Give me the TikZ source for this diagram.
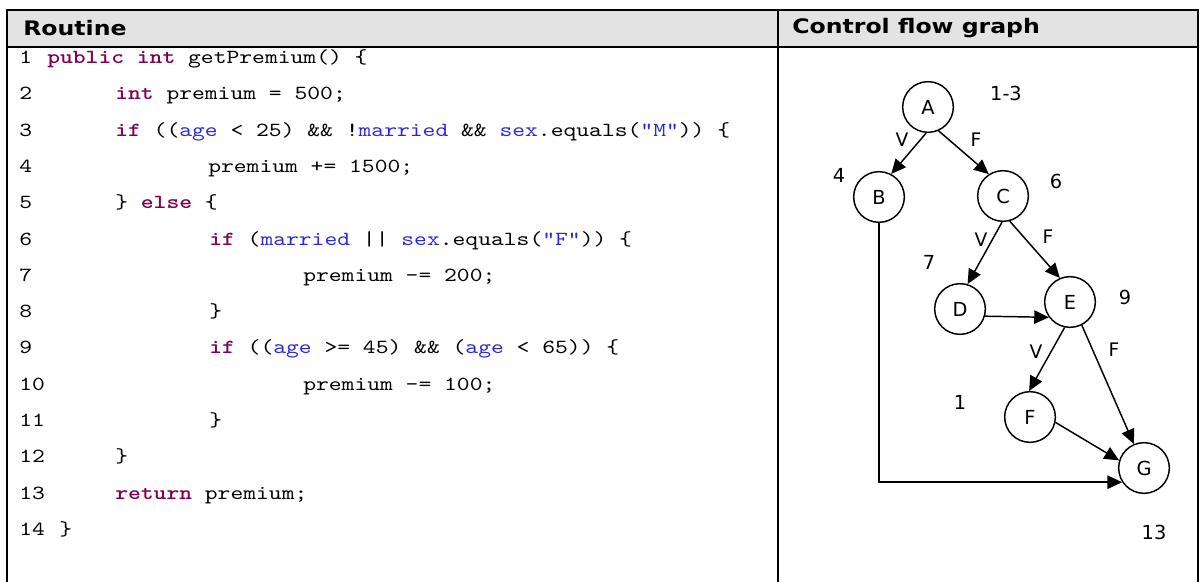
\documentclass[tikz,border=0pt]{standalone}
\usepackage{fontspec}
\setmainfont{DejaVu Sans}
\newfontfamily\headfont[FakeStretch=1.18]{DejaVu Sans}
\newfontfamily\codefont{lmmono10-regular.otf}[FakeStretch=1.22, BoldFont=lmmonolt10-bold.otf]
\usetikzlibrary{arrows.meta}

\definecolor{kwpurple}{RGB}{127,0,85}
\definecolor{idblue}{RGB}{42,42,220}
\definecolor{headgray}{RGB}{227,227,227}

\newcommand{\kw}[1]{{\bfseries\color{kwpurple}#1}}
\newcommand{\idf}[1]{{\color{idblue}#1}}

\tikzset{
  headtext/.style={anchor=west, inner sep=0pt, font=\headfont\fontsize{15}{18}\selectfont\bfseries},
  codeline/.style={anchor=mid west, inner sep=0pt, font=\codefont\fontsize{15}{18}\selectfont},
  vertex/.style={circle, draw, line width=1.1pt, minimum size=38pt, inner sep=0pt, font=\fontsize{14.5}{17}\selectfont},
  linelbl/.style={inner sep=0pt, font=\fontsize{14.5}{17}\selectfont},
  edgelbl/.style={inner sep=0pt, font=\fontsize{14}{16}\selectfont},
  flow/.style={-{Triangle[length=11pt,width=10pt]}, line width=1.1pt},
}

\begin{document}
\begin{tikzpicture}[x=0.75pt, y=-0.75pt]
  \useasboundingbox (0,0) rectangle (1204,582);

  % table frame
  \fill[headgray] (7,10) rectangle (1198,47);
  \draw[line width=2.2pt] (7,582) -- (7,10) -- (1198,10) -- (1198,582);
  \draw[line width=2.2pt] (7,47) -- (1198,47);
  \draw[line width=1.5pt] (778,10) -- (778,582);
  \node[headtext] (hroutine) at (23,28) {Routine};
  \node[headtext] (hgraph) at (792,28) {Control flow graph};

  % routine
  \foreach \i in {1,...,14}
    \node[codeline] (n\i) at (19,{60+36.28*(\i-1)}) {\i};
  \node[codeline] (c1) at (47,60) {\kw{public} \kw{int} getPremium() \{};
  \node[codeline] (c2) at (115,96.3) {\kw{int} premium = 500;};
  \node[codeline] (c3) at (115,132.6) {\kw{if} ((\idf{age} < 25) \&\& !\idf{married} \&\& \idf{sex}.equals(\idf{"M"})) \{};
  \node[codeline] (c4) at (208,168.8) {premium += 1500;};
  \node[codeline] (c5) at (115,205.1) {\} \kw{else} \{};
  \node[codeline] (c6) at (209,241.4) {\kw{if} (\idf{married} || \idf{sex}.equals(\idf{"F"})) \{};
  \node[codeline] (c7) at (303,277.7) {premium -= 200;};
  \node[codeline] (c8) at (209,314) {\}};
  \node[codeline] (c9) at (209,350.2) {\kw{if} ((\idf{age} >= 45) \&\& (\idf{age} < 65)) \{};
  \node[codeline] (c10) at (303,386.5) {premium -= 100;};
  \node[codeline] (c11) at (209,422.8) {\}};
  \node[codeline] (c12) at (115,459.1) {\}};
  \node[codeline] (c13) at (115,495.4) {\kw{return} premium;};
  \node[codeline] (c14) at (59,531.6) {\}};

  % control flow graph
  \node[vertex] (A) at (928,107) {A};
  \node[vertex] (B) at (879,197) {B};
  \node[vertex] (C) at (1003,196) {C};
  \node[vertex] (D) at (960,309) {D};
  \node[vertex] (E) at (1070,302) {E};
  \node[vertex] (F) at (1030,417) {F};
  \node[vertex] (G) at (1144,468) {G};

  \node[linelbl] (lA) at (1006,93) {1-3};
  \node[linelbl] (lB) at (839,175) {4};
  \node[linelbl] (lC) at (1056,181) {6};
  \node[linelbl] (lD) at (929,262) {7};
  \node[linelbl] (lE) at (1125,297) {9};
  \node[linelbl] (lF) at (960,402) {1};
  \node[linelbl] (lG) at (1154,532) {13};

  \draw[flow] (A.-94) -- (B.62);
  \draw[flow] (A.-66) -- (C.123);
  \draw[flow] (C.-92) -- (D.73);
  \draw[flow] (C.-75) -- (E.113);
  \draw[flow] (D.-16) -- (E.-144);
  \draw[flow] (E.-102) -- (F.92);
  \draw[flow] (E.-63) -- (G.113);
  \draw[flow] (F.-12) -- (G.163);
  \draw[flow] (B.south) |- (G.-147);

  \node[edgelbl] (vAB) at (902,140) {V};
  \node[edgelbl] (fAC) at (976,140) {F};
  \node[edgelbl] (vCD) at (981,240) {V};
  \node[edgelbl] (fCE) at (1048,237) {F};
  \node[edgelbl] (vEF) at (1036,352) {V};
  \node[edgelbl] (fEG) at (1114,350) {F};
\end{tikzpicture}
\end{document}
